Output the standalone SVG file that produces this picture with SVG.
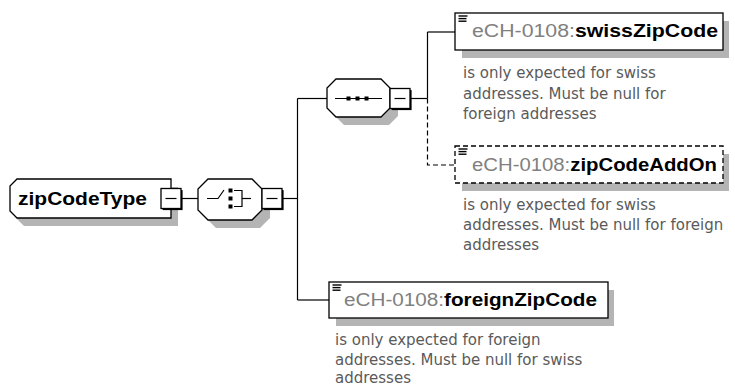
<svg xmlns="http://www.w3.org/2000/svg" width="735" height="388" viewBox="0 0 735 388">
<style>
.bg{fill:#fff}
.sh{fill:#b4b4b4;stroke:none}
.nd{fill:#fff;stroke:#000;stroke-width:1.3}
.ndd{fill:#fff;stroke:#000;stroke-width:1.3;stroke-dasharray:5,3}
.ln{fill:none;stroke:#000;stroke-width:1.2}
.dl{fill:none;stroke:#000;stroke-width:1.2;stroke-dasharray:5,3}
.ttl{font-family:"Liberation Sans",Arial,sans-serif;font-size:18px}
.pre{fill:#808080}
.nm{fill:#000;font-weight:bold}
.doc{font-family:"DejaVu Sans",Verdana,sans-serif;font-size:15px;fill:#5a5a5a}
.ic{stroke:#000;stroke-width:1.4}
</style>
<defs>
<g id="minus">
<rect x="1.6" y="1.6" width="20" height="20" fill="#000"/>
<rect x="0" y="0" width="20" height="20" fill="#fff" stroke="#000" stroke-width="1.3"/>
<line x1="4.5" y1="10" x2="15.5" y2="10" stroke="#000" stroke-width="1.2"/>
</g>
<g id="lines">
<line x1="0" y1="0" x2="9" y2="0" class="ic"/>
<line x1="0" y1="2.6" x2="8" y2="2.6" class="ic"/>
<line x1="0" y1="5.2" x2="8" y2="5.2" class="ic"/>
</g>
</defs>
<rect class="bg" x="0" y="0" width="735" height="388"/>

<g id="connectors">
<line class="ln" x1="182" y1="198.5" x2="198" y2="198.5"/>
<line class="ln" x1="283" y1="198.5" x2="297.5" y2="198.5"/>
<line class="ln" x1="297.5" y1="98.5" x2="297.5" y2="300"/>
<line class="ln" x1="297.5" y1="98.5" x2="327" y2="98.5"/>
<line class="ln" x1="297.5" y1="300" x2="329" y2="300"/>
<line class="ln" x1="411" y1="98.5" x2="427.5" y2="98.5"/>
<line class="ln" x1="427.5" y1="32" x2="427.5" y2="98.5"/>
<line class="ln" x1="427.5" y1="32" x2="455" y2="32"/>
<polyline class="dl" points="427.5,98.5 427.5,165 455,165"/>
</g>

<g id="zipCodeType">
<path class="sh" d="M24,187 H178 V226 H24 L17,219 V194 Z"/>
<path class="nd" d="M17,179 H171 V218 H17 L10,211 V186 Z"/>
<text class="ttl nm" x="18" y="205" textLength="129" lengthAdjust="spacingAndGlyphs">zipCodeType</text>
<use href="#minus" x="161" y="188.5"/>
</g>

<g id="choice">
<path class="sh" d="M216,187 H260 L270,197 V218 L260,228 H216 L206,218 V197 Z"/>
<path class="nd" d="M208,179 H252 L262,189 V210 L252,220 H208 L198,210 V189 Z"/>
<polyline class="ln" points="207,198.5 218,198.5 224,190"/>
<rect x="228.5" y="188.5" width="4" height="4" fill="#000"/>
<rect x="228.5" y="196.5" width="4" height="4" fill="#000"/>
<rect x="228.5" y="204.5" width="4" height="4" fill="#000"/>
<polyline class="ln" points="234,190.5 242,190.5 242,206.5 234,206.5"/>
<line class="ln" x1="242" y1="198.5" x2="251" y2="198.5"/>
<use href="#minus" x="262" y="188.5"/>
</g>

<g id="sequence">
<path class="sh" d="M344,87 H389 L398,96 V116 L389,125 H344 L335,116 V96 Z"/>
<path class="nd" d="M336,79 H381 L390,88 V108 L381,117 H336 L327,108 V88 Z"/>
<line class="ln" x1="335" y1="98.5" x2="382" y2="98.5"/>
<rect x="346.5" y="96.5" width="4" height="4" fill="#000"/>
<rect x="355.5" y="96.5" width="4" height="4" fill="#000"/>
<rect x="364.5" y="96.5" width="4" height="4" fill="#000"/>
<use href="#minus" x="390" y="88.5"/>
</g>

<g id="swissZipCode">
<rect class="sh" x="462" y="21" width="267" height="37"/>
<rect class="nd" x="455" y="13" width="268" height="37"/>
<use href="#lines" x="458.5" y="16"/>
<text class="ttl" x="472" y="37" textLength="246" lengthAdjust="spacingAndGlyphs"><tspan class="pre">eCH-0108:</tspan><tspan class="nm">swissZipCode</tspan></text>
<text class="doc" x="463" y="78">is only expected for swiss</text>
<text class="doc" x="463" y="98.5">addresses. Must be null for</text>
<text class="doc" x="463" y="119">foreign addresses</text>
</g>

<g id="zipCodeAddOn">
<rect class="sh" x="462" y="154" width="267" height="37"/>
<rect class="ndd" x="455" y="146" width="268" height="37"/>
<use href="#lines" x="458.5" y="149"/>
<text class="ttl" x="472" y="171" textLength="245" lengthAdjust="spacingAndGlyphs"><tspan class="pre">eCH-0108:</tspan><tspan class="nm">zipCodeAddOn</tspan></text>
<text class="doc" x="463" y="210">is only expected for swiss</text>
<text class="doc" x="463" y="230">addresses. Must be null for foreign</text>
<text class="doc" x="463" y="250">addresses</text>
</g>

<g id="foreignZipCode">
<rect class="sh" x="336" y="290" width="278" height="36"/>
<rect class="nd" x="329" y="282" width="279" height="36"/>
<use href="#lines" x="332.5" y="285"/>
<text class="ttl" x="344" y="306" textLength="253" lengthAdjust="spacingAndGlyphs"><tspan class="pre">eCH-0108:</tspan><tspan class="nm">foreignZipCode</tspan></text>
<text class="doc" x="335" y="345">is only expected for foreign</text>
<text class="doc" x="335" y="364.5">addresses. Must be null for swiss</text>
<text class="doc" x="335" y="383">addresses</text>
</g>
</svg>
